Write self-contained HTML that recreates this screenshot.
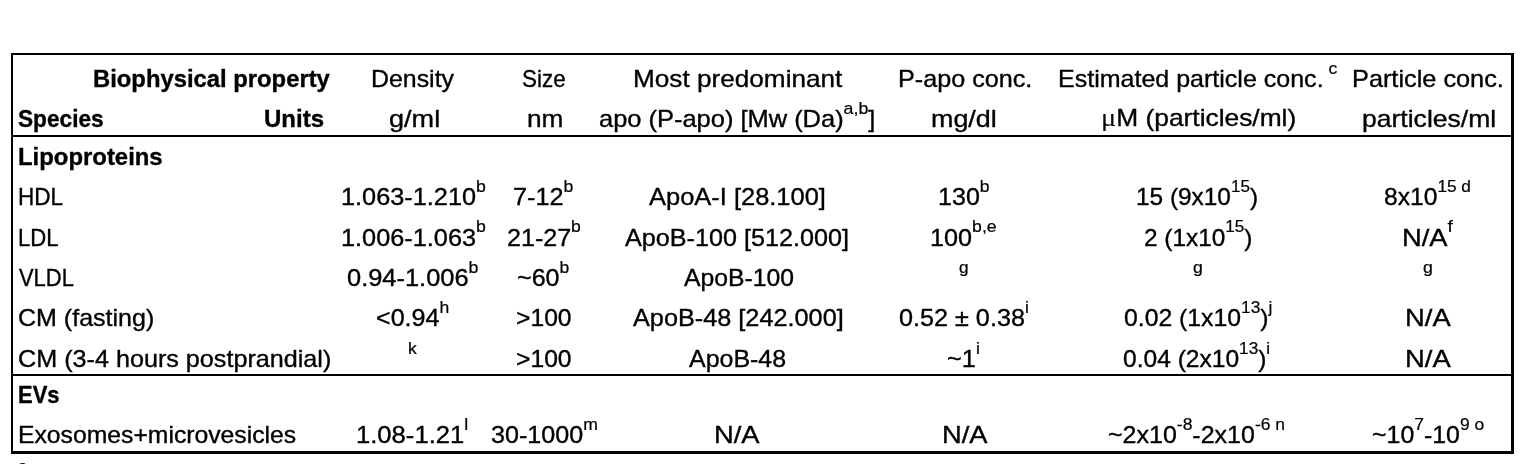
<!DOCTYPE html>
<html lang="en"><head><meta charset="utf-8"><title>Biophysical properties of lipoproteins and EVs</title>
<style>
html,body{margin:0;padding:0;background:#fff}
body{width:1524px;height:464px;box-sizing:border-box;padding:53px 0 0 11px;position:relative;overflow:hidden;font-family:"Liberation Sans",sans-serif;font-size:24.0px;color:#000}
.t{position:absolute;display:block;white-space:pre;line-height:40px;height:40px;transform-origin:0 0;-webkit-text-stroke:0.35px #000}
.b{font-weight:bold}
sup{font-size:70%;vertical-align:baseline;position:relative;top:-0.78em;line-height:0;-webkit-text-stroke:0.22px #000}
.mu{font-family:"Liberation Serif",serif;font-size:108%;line-height:0;-webkit-text-stroke:0}
.ln{position:absolute;background:#000}
.tb{margin:0;border-collapse:collapse;table-layout:fixed;width:1503px}
.tb th,.tb td{padding:0;border:0;font-weight:normal}
.fn{margin:0}
</style></head>
<body>
<div class="ln" style="left:10.9px;top:52.9px;width:1502.95px;height:2.1px"></div>
<div class="ln" style="left:10.9px;top:52.9px;width:2.3px;height:400.85px"></div>
<div class="ln" style="left:1510.8px;top:52.9px;width:3.05px;height:400.85px"></div>
<div class="ln" style="left:10.9px;top:134.85px;width:1502.95px;height:2.55px"></div>
<div class="ln" style="left:10.9px;top:374.2px;width:1502.95px;height:1.55px"></div>
<div class="ln" style="left:10.9px;top:450.9px;width:1502.95px;height:2.85px"></div>
<table class="tb"><colgroup><col style="width:326px"><col style="width:163px"><col style="width:90px"><col style="width:295px"><col style="width:160px"><col style="width:300px"><col style="width:169px"></colgroup>
<thead>
<tr style="height:41px">
<th><span class="t b" style="left:93.14px;top:59.00px;transform:scaleX(0.9921)">Biophysical property</span></th>
<th><span class="t" style="left:371.42px;top:59.00px;transform:scaleX(1.0371)">Density</span></th>
<th><span class="t" style="left:521.80px;top:59.00px;transform:scaleX(0.9341)">Size</span></th>
<th><span class="t" style="left:632.58px;top:59.00px;transform:scaleX(1.0898)">Most predominant</span></th>
<th><span class="t" style="left:897.65px;top:59.00px;transform:scaleX(1.0491)">P-apo conc.</span></th>
<th><span class="t" style="left:1058.16px;top:59.00px;transform:scaleX(1.0424)">Estimated particle conc.<sup> c</sup></span></th>
<th><span class="t" style="left:1352.14px;top:59.00px;transform:scaleX(1.0542)">Particle conc.</span></th>
</tr>
<tr style="height:41px">
<th><span class="t b" style="left:18.18px;top:99.20px;transform:scaleX(0.9441)">Species</span><span class="t b" style="left:263.75px;top:99.20px;transform:scaleX(1.0002)">Units</span></th>
<th><span class="t" style="left:388.54px;top:99.20px;transform:scaleX(1.1280)">g/ml</span></th>
<th><span class="t" style="left:527.24px;top:99.20px;transform:scaleX(1.0928)">nm</span></th>
<th><span class="t" style="left:599.03px;top:99.20px;transform:scaleX(1.0602)">apo (P-apo) [Mw (Da)<sup>a,b</sup>]</span></th>
<th><span class="t" style="left:931.45px;top:99.20px;transform:scaleX(1.1205)">mg/dl</span></th>
<th><span class="t" style="left:1100.69px;top:98.30px;transform:scaleX(1.0972)"><span class="mu">μ</span>M (particles/ml)</span></th>
<th><span class="t" style="left:1361.51px;top:99.20px;transform:scaleX(1.1055)">particles/ml</span></th>
</tr>
</thead>
<tbody>
<tr style="height:38px">
<th colspan="7" scope="rowgroup"><span class="t b" style="left:18.13px;top:137.00px;transform:scaleX(0.9954)">Lipoproteins</span></th>
</tr>
<tr style="height:40.5px">
<th><span class="t" style="left:17.84px;top:177.00px;transform:scaleX(0.9390)">HDL</span></th>
<td><span class="t" style="left:341.37px;top:177.00px;transform:scaleX(1.0545)">1.063-1.210<sup>b</sup></span></td>
<td><span class="t" style="left:513.31px;top:177.00px;transform:scaleX(1.0532)">7-12<sup>b</sup></span></td>
<td><span class="t" style="left:649.36px;top:177.00px;transform:scaleX(1.0607)">ApoA-I [28.100]</span></td>
<td><span class="t" style="left:937.89px;top:177.00px;transform:scaleX(1.0450)">130<sup>b</sup></span></td>
<td><span class="t" style="left:1136.43px;top:177.00px;transform:scaleX(1.0163)">15 (9x10<sup>15</sup>)</span></td>
<td><span class="t" style="left:1384.28px;top:177.00px;transform:scaleX(1.0263)">8x10<sup>15 d</sup></span></td>
</tr>
<tr style="height:40.5px">
<th><span class="t" style="left:17.87px;top:217.50px;transform:scaleX(0.9212)">LDL</span></th>
<td><span class="t" style="left:341.37px;top:217.50px;transform:scaleX(1.0545)">1.006-1.063<sup>b</sup></span></td>
<td><span class="t" style="left:507.34px;top:217.50px;transform:scaleX(1.0445)">21-27<sup>b</sup></span></td>
<td><span class="t" style="left:625.36px;top:217.50px;transform:scaleX(1.0486)">ApoB-100 [512.000]</span></td>
<td><span class="t" style="left:930.37px;top:217.50px;transform:scaleX(1.0518)">100<sup>b,e</sup></span></td>
<td><span class="t" style="left:1144.37px;top:217.50px;transform:scaleX(1.0156)">2 (1x10<sup>15</sup>)</span></td>
<td><span class="t" style="left:1402.49px;top:217.50px;transform:scaleX(1.1392)">N/A<sup>f</sup></span></td>
</tr>
<tr style="height:40.5px">
<th><span class="t" style="left:19.35px;top:258.00px;transform:scaleX(0.9135)">VLDL</span></th>
<td><span class="t" style="left:347.21px;top:258.00px;transform:scaleX(1.0591)">0.94-1.006<sup>b</sup></span></td>
<td><span class="t" style="left:517.06px;top:258.00px;transform:scaleX(1.0445)">~60<sup>b</sup></span></td>
<td><span class="t" style="left:683.61px;top:258.00px;transform:scaleX(1.0315)">ApoB-100</span></td>
<td><span class="t" style="left:959.41px;top:258.00px;transform:scaleX(1.0246)"><sup>g</sup></span></td>
<td><span class="t" style="left:1193.40px;top:258.00px;transform:scaleX(1.0502)"><sup>g</sup></span></td>
<td><span class="t" style="left:1422.65px;top:258.00px;transform:scaleX(1.0566)"><sup>g</sup></span></td>
</tr>
<tr style="height:40.5px">
<th><span class="t" style="left:17.53px;top:298.30px;transform:scaleX(1.0423)">CM (fasting)</span></th>
<td><span class="t" style="left:375.82px;top:298.30px;transform:scaleX(1.0445)">&lt;0.94<sup>h</sup></span></td>
<td><span class="t" style="left:516.36px;top:298.30px;transform:scaleX(1.0282)">&gt;100</span></td>
<td><span class="t" style="left:632.86px;top:298.30px;transform:scaleX(1.0527)">ApoB-48 [242.000]</span></td>
<td><span class="t" style="left:899.22px;top:298.30px;transform:scaleX(1.0498)">0.52 ± 0.38<sup>i</sup></span></td>
<td><span class="t" style="left:1124.23px;top:298.30px;transform:scaleX(1.0322)">0.02 (1x10<sup>13</sup>)<sup>j</sup></span></td>
<td><span class="t" style="left:1404.99px;top:298.30px;transform:scaleX(1.1414)">N/A</span></td>
</tr>
<tr style="height:40px">
<th><span class="t" style="left:17.52px;top:338.80px;transform:scaleX(1.0487)">CM (3-4 hours postprandial)</span></th>
<td><span class="t" style="left:408.34px;top:338.80px;transform:scaleX(1.0462)"><sup>k</sup></span></td>
<td><span class="t" style="left:516.36px;top:338.80px;transform:scaleX(1.0282)">&gt;100</span></td>
<td><span class="t" style="left:689.36px;top:338.80px;transform:scaleX(1.0393)">ApoB-48</span></td>
<td><span class="t" style="left:947.05px;top:338.80px;transform:scaleX(1.0553)">~1<sup>i</sup></span></td>
<td><span class="t" style="left:1122.99px;top:338.80px;transform:scaleX(1.0234)">0.04 (2x10<sup>13</sup>)<sup>i</sup></span></td>
<td><span class="t" style="left:1404.99px;top:338.80px;transform:scaleX(1.1414)">N/A</span></td>
</tr>
<tr style="height:36.5px">
<th colspan="7" scope="rowgroup"><span class="t b" style="left:18.24px;top:375.00px;transform:scaleX(0.9153)">EVs</span></th>
</tr>
<tr style="height:40px">
<th><span class="t" style="left:17.68px;top:415.40px;transform:scaleX(1.0298)">Exosomes+microvesicles</span></th>
<td><span class="t" style="left:356.35px;top:415.40px;transform:scaleX(1.0676)">1.08-1.21<sup>l</sup></span></td>
<td><span class="t" style="left:490.72px;top:415.40px;transform:scaleX(1.0465)">30-1000<sup>m</sup></span></td>
<td><span class="t" style="left:714.49px;top:415.40px;transform:scaleX(1.1388)">N/A</span></td>
<td><span class="t" style="left:942.39px;top:415.40px;transform:scaleX(1.1388)">N/A</span></td>
<td><span class="t" style="left:1108.46px;top:415.40px;transform:scaleX(1.0417)">~2x10<sup>-8</sup>-2x10<sup>-6 n</sup></span></td>
<td><span class="t" style="left:1371.66px;top:415.40px;transform:scaleX(1.0378)">~10<sup>7</sup>-10<sup>9 o</sup></span></td>
</tr>
</tbody>
</table>
<p class="fn"><span class="t" style="left:18px;top:457.2px"><sup>a</sup></span></p>
</body></html>
